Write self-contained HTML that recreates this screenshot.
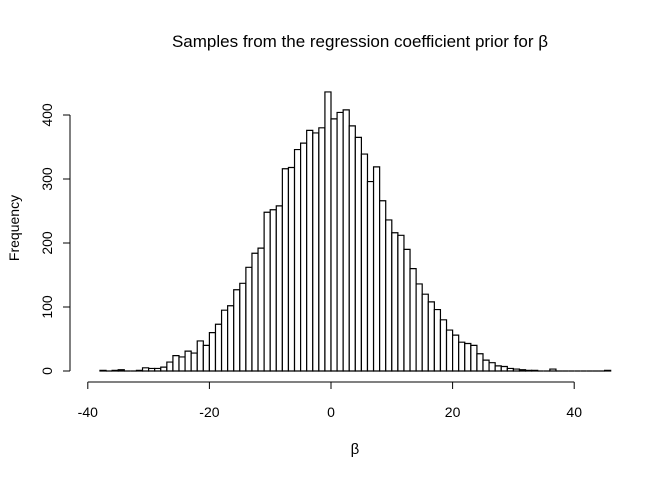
<!DOCTYPE html>
<html><head><meta charset="utf-8"><style>body{margin:0;background:#fff}svg{display:block;font-family:"Liberation Sans",Arial,sans-serif}</style></head>
<body>
<svg id="c" width="672" height="480">
<text x="360" y="47" font-size="17" text-anchor="middle">Samples from the regression coefficient prior for β</text>
<text x="355" y="454" font-size="15" text-anchor="middle">β</text>
<text transform="translate(19,228) rotate(-90)" font-size="14" text-anchor="middle">Frequency</text>
<g id="bars"></g><g id="axes"></g>
</svg>
<script>
const binStart = -38;
const counts = [1,0,1,2,0,0,1,5,4,4,6,14,24,22,31,28,47,40,60,73,95,102,127,137,162,184,192,248,252,258,316,318,346,356,376,372,380,436,394,404,408,383,365,339,296,319,266,236,216,212,190,160,136,120,108,96,80,64,56,45,43,40,27,17,13,8,7,4,3,2,1,1,0,0,3,0,0,0,0,0,0,0,0,1];
const xTicks = [-40,-20,0,20,40];
const yTicks = [0,100,200,300,400];
const NS="http://www.w3.org/2000/svg";
const sx = v => 331 + v*6.08;
const sy = v => 371 - v*0.64;
const bars=document.getElementById('bars'), axes=document.getElementById('axes');
function mk(tag,attrs,parent){const e=document.createElementNS(NS,tag);for(const k in attrs)e.setAttribute(k,attrs[k]);parent.appendChild(e);return e;}
counts.forEach((c,i)=>{
  const x0=sx(binStart+i), x1=sx(binStart+i+1), y0=sy(0), y1=sy(c);
  const r=mk('path',{d:`M${x0},${y0}L${x0},${y1}L${x1},${y1}L${x1},${y0}Z`,fill:'#fff',stroke:'#000','stroke-width':1.2},bars);
  
  
});
let l=mk('line',{x1:sx(-40),x2:sx(40),y1:382,y2:382,stroke:'#000'},axes);


xTicks.forEach(t=>{
  mk('line',{x1:sx(t),x2:sx(t),y1:382,y2:389,stroke:'#000'},axes);
  const tx=mk('text',{x:sx(t),y:417,'font-size':14,'text-anchor':'middle'},axes);tx.textContent=t;
  
  
});
l=mk('line',{x1:70,x2:70,y1:sy(0),y2:sy(400),stroke:'#000'},axes);


yTicks.forEach(t=>{
  mk('line',{x1:63,x2:70,y1:sy(t),y2:sy(t),stroke:'#000'},axes);
  const tx=mk('text',{transform:`translate(52,${sy(t)}) rotate(-90)`,'font-size':14,'text-anchor':'middle'},axes);tx.textContent=t;
  
  
});
</script>
</body></html>
